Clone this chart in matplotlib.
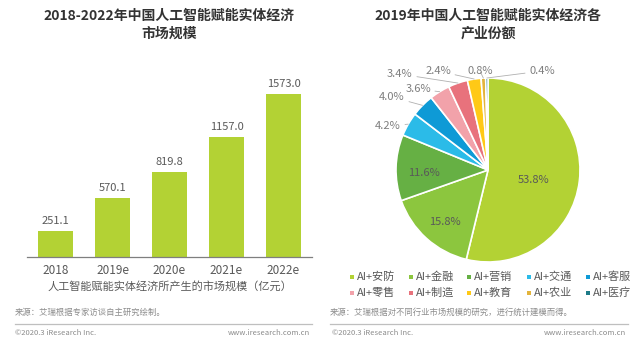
import numpy as np
import matplotlib
matplotlib.use('Agg')
from matplotlib import pyplot as plt
from matplotlib.patches import Wedge

plt.rcParams['font.family'] = ['Noto Sans CJK SC', 'DejaVu Sans']

# market size, 100 million yuan
years = ['2018', '2019e', '2020e', '2021e', '2022e']
market = [251.1, 570.1, 819.8, 1157.0, 1573.0]

# 2019 share by industry (%)
sectors = ['AI+安防', 'AI+金融', 'AI+营销', 'AI+交通', 'AI+客服',
           'AI+零售', 'AI+制造', 'AI+教育', 'AI+农业', 'AI+医疗']
shares = [53.8, 15.8, 11.6, 4.2, 4.0, 3.6, 3.4, 2.4, 0.8, 0.4]
colors = ['#B3D234', '#8CC63E', '#66B044', '#2BBBE8', '#0E9AD6',
          '#F2A2AA', '#E8727C', '#FFC916', '#E3B43C', '#1E7B88']

W, H = 640, 339
fig = plt.figure(figsize=(6.4, 3.39), dpi=100)
fig.patch.set_facecolor('white')


def box(x0, y0, x1, y1):
    # pixel box (top-left origin) -> figure fraction rect
    return [x0 / W, 1 - y1 / H, (x1 - x0) / W, (y1 - y0) / H]


txt = '#595959'

# ---- bar chart ----
ax = fig.add_axes(box(27, 77, 312, 257))
ax.bar(range(len(years)), market, width=0.62, color='#B3D234')
for i, v in enumerate(market):
    ax.text(i, v + 50, f'{v:.1f}', ha='center', va='bottom', fontsize=8, color=txt)
ax.set_xlim(-0.5, 4.5)
ax.set_ylim(0, 1573.0 * 180 / 163)
ax.set_xticks(range(len(years)))
ax.set_xticklabels(years, fontsize=8.5, color=txt)
ax.tick_params(axis='x', length=0, pad=5)
ax.set_yticks([])
for s in ['top', 'right', 'left']:
    ax.spines[s].set_visible(False)
ax.spines['bottom'].set_color('#7f7f7f')
ax.spines['bottom'].set_linewidth(0.9)
ax.set_xlabel('人工智能赋能实体经济所产生的市场规模（亿元）', fontsize=8, color=txt, labelpad=3)

# ---- pie chart ----
R = 92
cx, cy = 488, 170
half = 130
pax = fig.add_axes(box(cx - half, cy - half, cx + half, cy + half))
wedges, _ = pax.pie(shares, colors=colors, startangle=90, counterclock=False,
                    wedgeprops=dict(edgecolor='white', linewidth=1.2))
lim = half / R
pax.set_xlim(-lim, lim)
pax.set_ylim(-lim, lim)
pax.set_aspect('equal')
pax.axis('off')

inner_r = [0.5, 0.7, 0.7]
outer_pos = [(-1.087, 0.478), (-1.043, 0.793), (-0.761, 0.880), (-0.957, 1.043),
             (-0.543, 1.076), (-0.087, 1.076), (0.587, 1.076)]
for i, (w, v) in enumerate(zip(wedges, shares)):
    mid = np.deg2rad((w.theta1 + w.theta2) / 2)
    lab = f'{v:.1f}%'
    if i < 3:
        r = inner_r[i]
        pax.text(r * np.cos(mid), r * np.sin(mid) - 0.05, lab, ha='center', va='center',
                 fontsize=8, color=txt)
    else:
        tx, ty = outer_pos[i - 3]
        pax.annotate(lab, xy=(np.cos(mid), np.sin(mid)), xytext=(tx, ty),
                     ha='center', va='center', fontsize=8, color='#7f7f7f',
                     annotation_clip=False,
                     arrowprops=dict(arrowstyle='-', color='#b0b0b0', lw=0.6,
                                     shrinkA=1, shrinkB=0))

# ---- titles, legend and footer drawn in pixel space ----
ov = fig.add_axes([0, 0, 1, 1], zorder=-1)
ov.set_xlim(0, W)
ov.set_ylim(H, 0)
ov.axis('off')

title_kw = dict(ha='center', va='center', fontsize=10, fontweight='bold', color='#333333')
ov.text(169, 16, '2018-2022年中国人工智能赋能实体经济', **title_kw)
ov.text(169, 34, '市场规模', **title_kw)
ov.text(488, 16, '2019年中国人工智能赋能实体经济各', **title_kw)
ov.text(488, 34, '产业份额', **title_kw)

col_x = [352, 411, 469, 529, 588]
row_y = [277, 293]
for i, (name, c) in enumerate(zip(sectors, colors)):
    x, y = col_x[i % 5], row_y[i // 5]
    ov.scatter([x], [y], marker='s', s=7, color=c, linewidths=0)
    ov.text(x + 5, y, name, ha='left', va='center', fontsize=8, color=txt)

src_c = '#8c8c8c'
ov.text(15, 312, '来源：艾瑞根据专家访谈自主研究绘制。', ha='left', va='center',
        fontsize=6, color=src_c)
ov.text(330, 312, '来源：艾瑞根据对不同行业市场规模的研究，进行统计建模而得。', ha='left',
        va='center', fontsize=6, color=src_c)
ov.plot([15, 312], [324, 324], color='#bfbfbf', lw=0.9)
ov.plot([330, 628], [324, 324], color='#bfbfbf', lw=0.9)
for x0, x1 in [(15, 310), (332, 626)]:
    ov.text(x0, 333, '©2020.3 iResearch Inc.', ha='left', va='center', fontsize=5.5, color=src_c)
    ov.text(x1, 333, 'www.iresearch.com.cn', ha='right', va='center', fontsize=5.5, color=src_c)

ov.add_patch(Wedge((668, 352), 36, 120, 200, width=9, color='#B3D234'))

fig.savefig('out.png', dpi=100, facecolor='white')
